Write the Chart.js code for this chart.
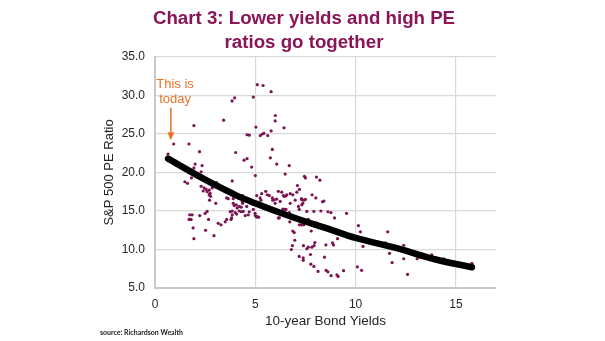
<!DOCTYPE html>
<html>
<head>
    <title>Chart 3</title>
    <script src="https://cdn.jsdelivr.net/npm/chart.js"></script>
    <style>
        html, body {
            margin: 0;
            padding: 0;
            background-color: #ffffff;
        }
        .chart-container {
            width: 605px;
            height: 341px;
        }
    </style>
</head>
<body>
    <div class="chart-container"><canvas id="chart"></canvas></div>
    <script>
        // values
        var bondYield = [
            0.65, 0.93, 1.69, 1.94, 2.22, 2.0, 2.35, 1.94, 3.42, 3.84, 3.97, 4.9, 5.1, 5.39, 5.79,
            5.03, 4.59, 4.7, 5.25, 5.35, 5.43, 5.62, 5.79, 6.0, 5.99, 6.43, 4.02, 4.44, 4.59, 4.82,
            5.85, 5.75, 6.07, 6.69, 2.3,
            1.82, 1.49, 1.62, 3.07, 3.85, 5.0, 6.49, 7.45, 7.5, 8.05, 8.22, 7.1, 7.2,
            2.3, 2.45, 2.55, 2.4, 2.6, 2.7, 2.85, 2.75, 2.7, 2.77, 2.72, 3.03, 3.57, 3.65, 3.9,
            4.1, 4.2, 4.37, 3.9, 4.05, 4.2, 4.1, 3.95, 4.3, 4.35, 3.85, 4.0, 4.3, 3.75,
            5.52, 5.32, 5.07, 5.24, 5.6, 5.7, 5.85, 5.95, 6.07, 6.15, 6.32, 6.4, 6.57, 6.74, 6.87,
            6.99, 7.32, 7.37, 7.32, 6.74, 6.24, 5.99, 4.37, 4.57, 4.4, 4.65, 4.99, 4.9, 5.07, 5.17,
            6.15, 6.7, 6.87, 6.94, 7.57, 5.28, 5.52, 5.87, 6.02, 6.2, 7.15,
            6.44, 6.52, 7.07, 7.3, 7.42, 7.5, 7.83, 8.02, 8.35, 8.42, 6.37, 6.45, 6.53, 7.19,
            7.92, 8.27, 8.62, 8.77, 9.55, 8.95, 6.72, 7.65, 8.05, 7.2, 7.3, 7.42, 7.79,
            10.14, 10.24, 11.6, 11.49, 12.4, 11.69, 11.82, 12.4, 13.07, 13.8, 14.4, 12.59, 15.8,
            10.37, 10.09, 10.3, 9.4, 9.1, 8.85, 8.9, 8.52, 7.97, 7.93, 7.82, 7.64, 7.57, 7.4,
            6.97, 6.85, 6.8, 7.19, 7.75, 7.39, 7.39, 8.45, 7.77, 7.92, 8.13, 8.53, 8.62, 8.78,
            9.07, 9.13,
            1.73, 1.85, 1.7, 1.8, 1.9, 1.94, 2.23, 2.5, 2.6, 2.67, 2.52, 2.94, 3.15, 3.29, 3.5,
            3.57, 3.79, 3.82, 3.85, 4.07, 4.2, 4.5, 4.7, 5.0, 5.07
        ];
        var peRatio = [
            22.4, 23.7, 23.7, 26.1, 22.7, 21.1, 20.9, 20.6, 26.8, 29.3, 29.7, 29.8, 31.4, 31.3, 30.5,
            25.9, 24.9, 24.85, 24.8, 25.0, 25.1, 24.8, 25.4, 27.4, 26.7, 25.8, 22.6, 21.6, 21.8, 20.7,
            23.0, 21.9, 21.1, 20.9, 20.1,
            19.3, 18.8, 18.6, 18.7, 18.9, 19.6, 19.8, 19.5, 19.3, 19.4, 19.0, 18.3, 17.8,
            18.2, 18.0, 17.8, 17.6, 17.5, 17.7, 18.0, 17.3, 17.1, 16.9, 16.4, 16.0, 16.7, 16.6, 16.6,
            16.9, 16.7, 17.0, 16.0, 15.8, 15.6, 15.4, 15.7, 15.5, 16.2, 15.0, 14.8, 14.9, 14.9,
            17.55, 17.25, 17.0, 16.7, 17.1, 17.0, 16.7, 16.45, 16.55, 17.55, 17.45, 17.0, 17.1, 17.25, 17.1,
            16.4, 16.45, 16.0, 15.8, 16.0, 16.25, 16.0, 16.0, 15.6, 14.95, 14.5, 14.7, 15.2, 14.2, 14.2,
            14.1, 14.8, 12.4, 12.2, 14.95, 16.4, 15.3, 16.4, 15.2, 14.1, 15.6,
            16.9, 16.95, 17.45, 16.6, 16.4, 16.5, 17.1, 16.7, 16.2, 16.3, 15.25, 15.2, 15.2, 15.2,
            14.95, 15.0, 14.9, 14.8, 14.7, 14.1, 13.6, 13.9, 13.45, 13.2, 13.2, 13.2, 12.4,
            13.1, 12.3, 12.3, 10.85, 10.55, 9.5, 8.3, 8.8, 8.8, 9.3, 8.8, 6.76, 8.2,
            10.4, 7.75, 7.3, 7.25, 11.4, 10.85, 10.6, 10.6, 10.9, 10.5, 10.3, 10.3, 10.1, 10.5,
            11.2, 10.5, 10.0, 9.1, 9.35, 8.9, 8.6, 9.0, 8.1, 7.8, 7.15, 7.3, 7.1, 6.6,
            6.7, 6.5,
            14.5, 14.5, 13.9, 13.9, 12.8, 11.4, 14.4, 14.7, 14.95, 13.9, 12.5, 11.8, 13.4, 13.2, 13.6,
            13.9, 13.9, 14.1, 14.5, 14.6, 15.0, 14.4, 14.9, 14.4, 14.3
        ];

        // trend line, read at a few points along the black curve
        var trendX = [0.65, 2, 3, 4, 5, 6, 7.2, 8.5, 10, 12, 14, 15.8];
        var trendY = [21.8, 19.8, 18.4, 17.1, 16.0, 15.0, 13.9, 12.8, 11.5, 10.2, 8.7, 7.7];

        var titleLines = ["Chart 3: Lower yields and high PE", "ratios go together"];
        var noteLines = ["This is", "today"];
        var sourceText = "source: Richardson Wealth";

        var dots = bondYield.map(function(x, i) { return {x: x, y: peRatio[i]}; });
        var trend = trendX.map(function(x, i) { return {x: x, y: trendY[i]}; });

        // title, note with arrow, source line
        var extras = {
            id: 'extras',
            afterDraw: function(chart) {
                var ctx = chart.ctx;
                var xs = chart.scales.x, ys = chart.scales.y;
                ctx.save();
                ctx.textAlign = 'center';
                ctx.textBaseline = 'middle';
                ctx.fillStyle = '#8a1457';
                ctx.font = 'bold 18.7px "Liberation Sans", Arial, sans-serif';
                ctx.fillText(titleLines[0], 304, 19);
                ctx.fillText(titleLines[1], 304, 43);

                ctx.fillStyle = '#e8742c';
                ctx.font = '13px "Liberation Sans", Arial, sans-serif';
                ctx.fillText(noteLines[0], xs.getPixelForValue(1.0), 84);
                ctx.fillText(noteLines[1], xs.getPixelForValue(1.0), 99);

                var ax = xs.getPixelForValue(0.79);
                var y0 = ys.getPixelForValue(28.4), y1 = ys.getPixelForValue(24.2);
                ctx.strokeStyle = '#e8742c';
                ctx.lineWidth = 1.5;
                ctx.beginPath();
                ctx.moveTo(ax, y0);
                ctx.lineTo(ax, y1 - 7);
                ctx.stroke();
                ctx.beginPath();
                ctx.moveTo(ax - 3.5, y1 - 8);
                ctx.lineTo(ax + 3.5, y1 - 8);
                ctx.lineTo(ax, y1);
                ctx.closePath();
                ctx.fill();

                ctx.textAlign = 'left';
                ctx.fillStyle = '#222222';
                ctx.font = 'bold 7px Lato, "Open Sans", sans-serif';
                ctx.fillText(sourceText, 100, 333);
                ctx.restore();
            }
        };

        var ctx = document.getElementById('chart').getContext('2d');
        var chart = new Chart(ctx, {
            type: 'scatter',
            data: {
                datasets: [{
                    type: 'line',
                    data: trend,
                    borderColor: '#000000',
                    borderWidth: 6.5,
                    borderCapStyle: 'round',
                    tension: 0.4,
                    pointRadius: 0,
                    fill: false
                }, {
                    data: dots,
                    backgroundColor: '#7c1452',
                    borderWidth: 0,
                    pointRadius: 1.6
                }]
            },
            plugins: [extras],
            options: {
                responsive: true,
                maintainAspectRatio: false,
                animation: false,
                layout: {
                    padding: {left: 0, right: 109, top: 57, bottom: 0}
                },
                plugins: {
                    legend: { display: false },
                    tooltip: { enabled: false }
                },
                scales: {
                    x: {
                        type: 'linear',
                        min: 0,
                        max: 17,
                        afterFit: function(s) { s.height = 53; },
                        grid: { color: '#d9d9d9', lineWidth: 1.2, drawTicks: false },
                        border: { color: '#c8c8c8', width: 2 },
                        ticks: {
                            stepSize: 5,
                            includeBounds: false,
                            padding: 9,
                            color: '#262626',
                            font: { size: 12, family: '"Liberation Sans", Arial, sans-serif' }
                        },
                        title: {
                            display: true,
                            text: '10-year Bond Yields',
                            color: '#262626',
                            font: { size: 13.5, family: '"Liberation Sans", Arial, sans-serif' },
                            padding: { top: 0, bottom: 12 }
                        }
                    },
                    y: {
                        min: 5,
                        max: 35,
                        afterFit: function(s) { s.width = 155; },
                        grid: { color: '#d9d9d9', lineWidth: 1.2, drawTicks: false },
                        border: { color: '#c8c8c8', width: 2 },
                        ticks: {
                            stepSize: 5,
                            padding: 10,
                            color: '#262626',
                            font: { size: 12, family: '"Liberation Sans", Arial, sans-serif' },
                            callback: function(v) { return v.toFixed(1); }
                        },
                        title: {
                            display: true,
                            text: 'S&P 500 PE Ratio',
                            color: '#262626',
                            font: { size: 13, family: '"Liberation Sans", Arial, sans-serif' },
                            padding: { top: 102, bottom: 0 }
                        }
                    }
                }
            }
        });
    </script>
</body>
</html>
